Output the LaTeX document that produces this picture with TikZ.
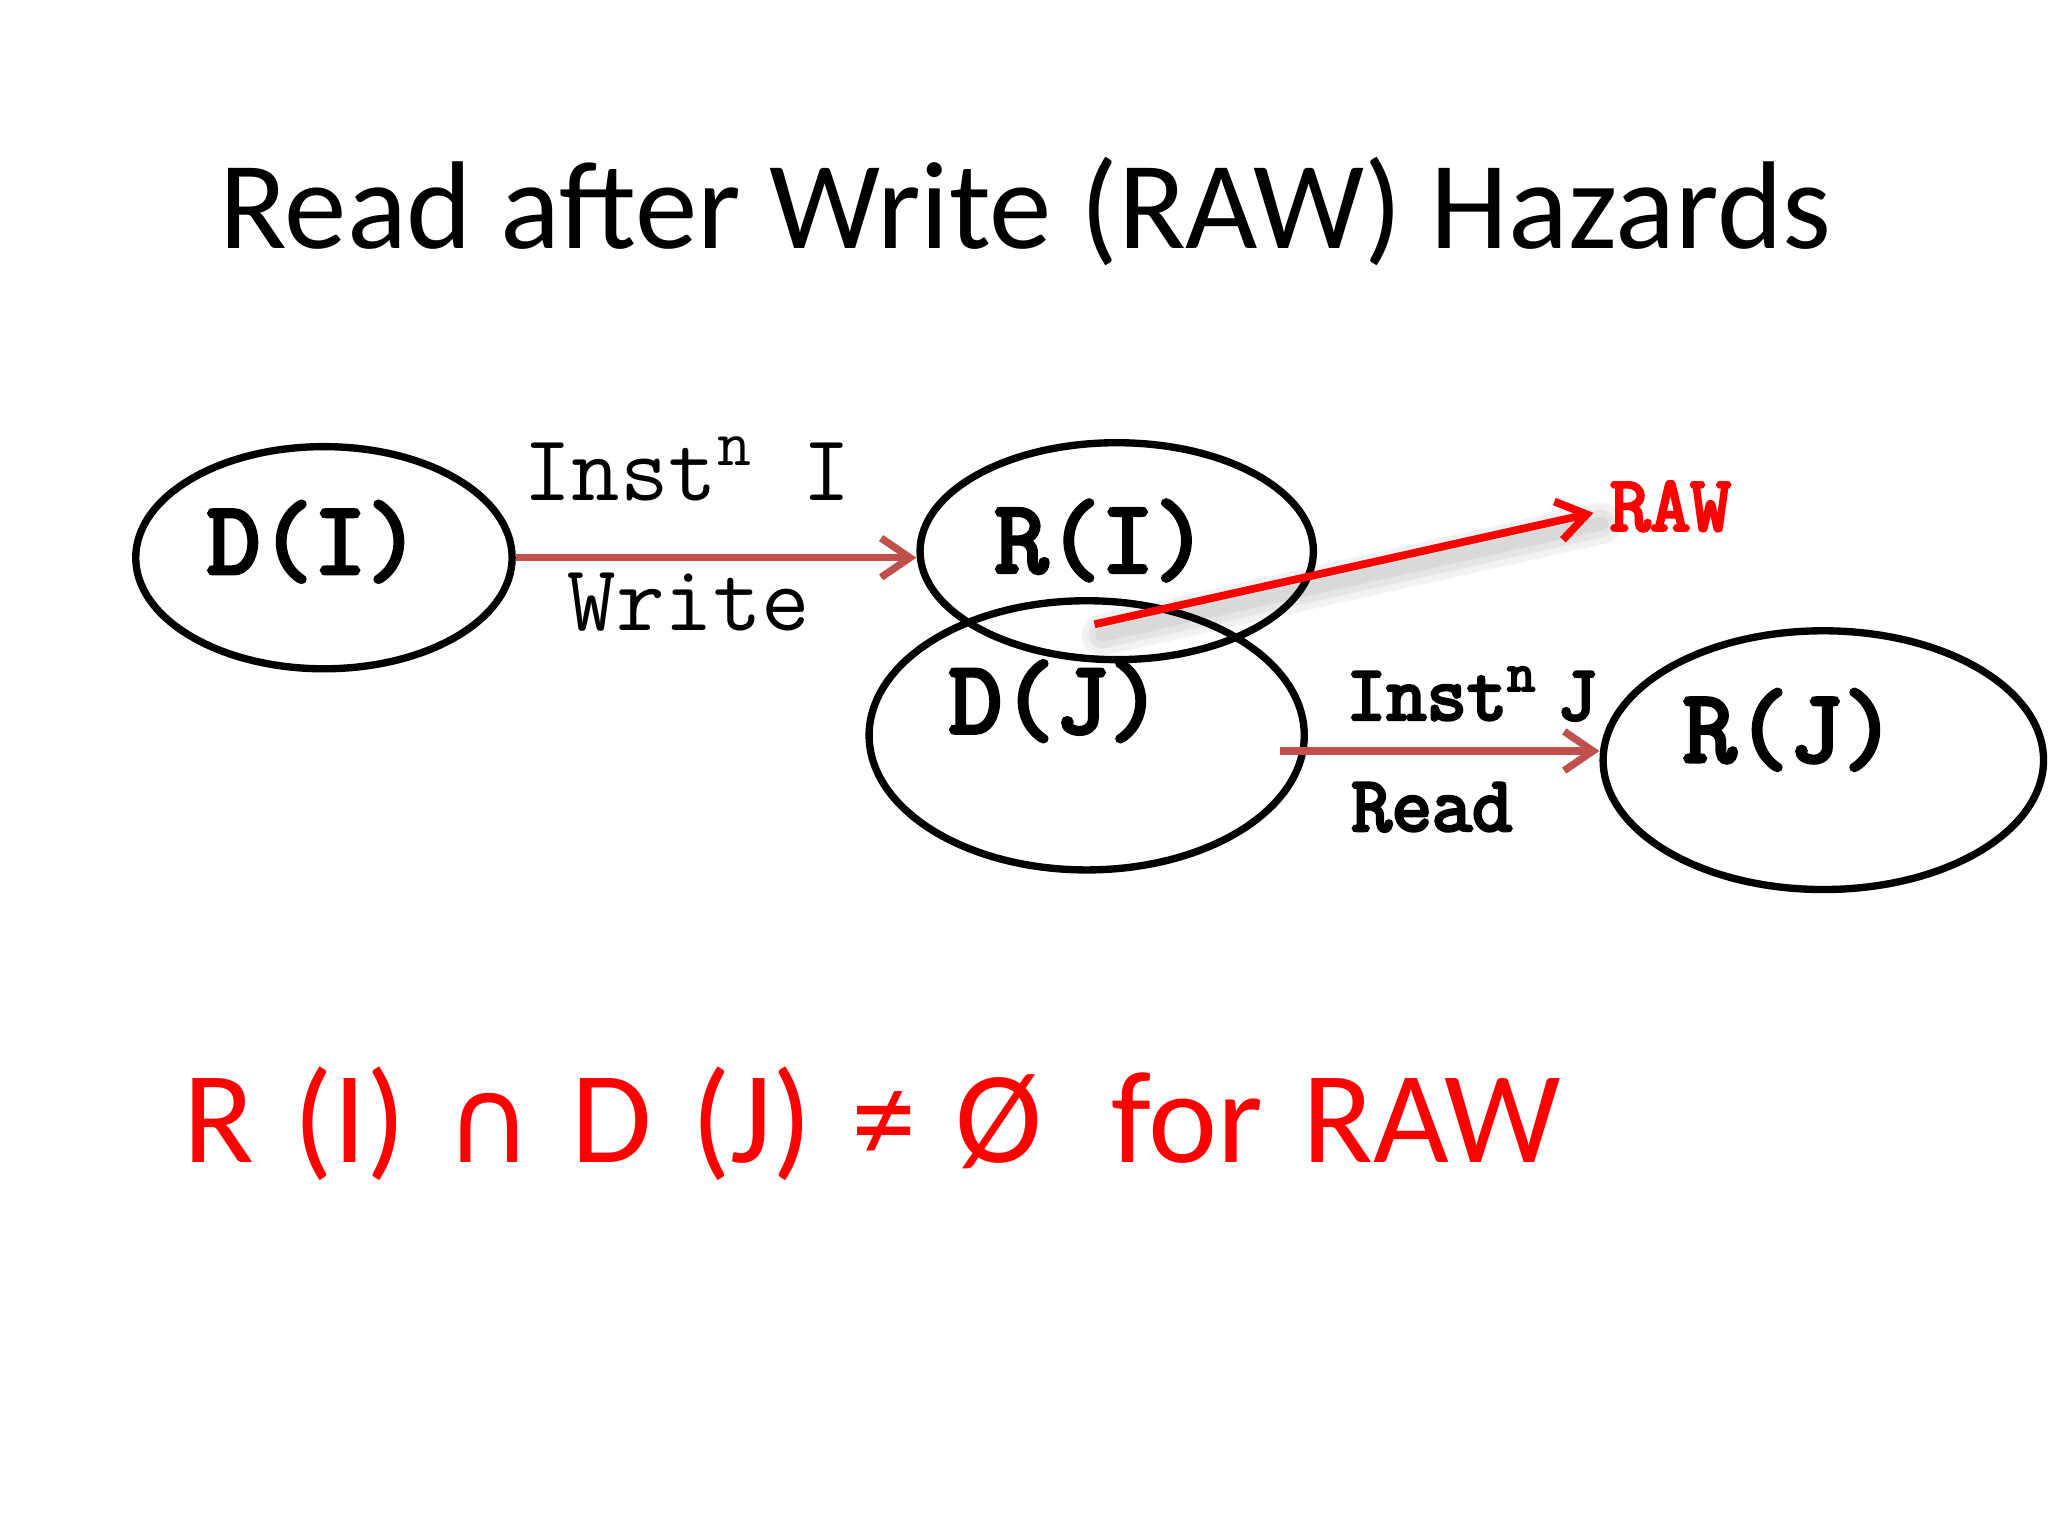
\documentclass[tikz,border=0pt]{standalone}
\usepackage{fontspec}
\setmainfont{Carlito}
\newfontfamily\symf{DejaVu Sans}
\newfontfamily\monobf{Latin Modern Mono}[FakeBold=4]
\usetikzlibrary{arrows.meta,shapes.geometric}
\definecolor{arrowred}{RGB}{192,80,77}
\definecolor{rawred}{RGB}{255,0,0}
\newcommand\widesp{\spaceskip=8.5pt\relax}
\begin{document}
\begin{tikzpicture}[x=0.01cm,y=-0.01cm,
  ell/.style={draw=black,line width=1.6pt,ellipse,inner sep=0pt},
  lbl/.style={inner sep=0pt,font=\monobf\fontsize{22.5}{27}\selectfont},
  lblreg/.style={inner sep=0pt,font=\ttfamily\fontsize{20.5}{24}\selectfont},
  lblsm/.style={inner sep=0pt,font=\monobf\fontsize{17}{20}\selectfont},
  warrow/.style={draw=arrowred,line width=1.6pt,-{Straight Barb[length=0.22cm,width=0.3cm]}},
  rarrow/.style={draw=rawred,line width=1.7pt,-{Straight Barb[length=0.22cm,width=0.3cm]}},
  shad/.style={draw=black,line cap=round,opacity=0.05}]
\fill[white] (0,0) rectangle (1568,1176);
\useasboundingbox (0,0) rectangle (1568,1176);

\node[anchor=base,inner sep=0pt,font=\fontsize{27.2}{33}\selectfont] (title) at (785,190) {Read after Write (RAW) Hazards};

\node[ell,minimum width=2.88cm,minimum height=1.70cm] (DI) at (248,427) {};
\node[ell,minimum width=3.01cm,minimum height=1.66cm] (RI) at (855,422) {};
\node[ell,minimum width=3.33cm,minimum height=2.06cm] (DJ) at (832,563) {};
\node[ell,minimum width=3.37cm,minimum height=1.98cm] (RJ) at (1396,582) {};

\node[lbl,anchor=base] (DIt) at (240,439) {D(I)};
\node[lbl,anchor=base] (RIt) at (843,438) {R(I)};
\node[lbl,anchor=base] (DJt) at (808,561) {D(J)};
\node[lbl,anchor=base] (RJt) at (1370,583) {R(J)};

\node[lblreg,anchor=base west] (instI) at (400,383) {Inst\textsuperscript{n} I};
\node[lblreg,anchor=base west] (write) at (434,483) {Write};
\node[lblsm,anchor=base west] (instJ) at (1030,551) {Inst\textsuperscript{n}\hspace{0.25em}J};
\node[lblsm,anchor=base west] (read) at (1034,636) {Read};
\node[lblsm,anchor=base west,text=rawred] (RAW) at (1232,406) {RAW};

\draw[warrow] (DI.east) -- (DI.east -| RI.west);
\coordinate (js) at (980,575);
\draw[warrow] (js) -- (js -| RJ.west);

\coordinate (rs) at (838,478);
\coordinate (re) at ([shift={(-12,5)}]RAW.west);
\foreach \w in {9,6,3}{
  \draw[shad,line width=\w pt] ([shift={(6,8)}]rs) -- ([shift={(6,8)}]re);
}
\draw[rarrow] (rs) -- (re);

\node[anchor=base west,inner sep=0pt,text=rawred,font=\fontsize{28.5}{34}\selectfont] (rule) at (140,890) {\widesp R (I) {\symf\fontsize{26}{30}\selectfont ∩} D (J) ≠ Ø\hspace{15pt}for RAW};
\end{tikzpicture}
\end{document}
